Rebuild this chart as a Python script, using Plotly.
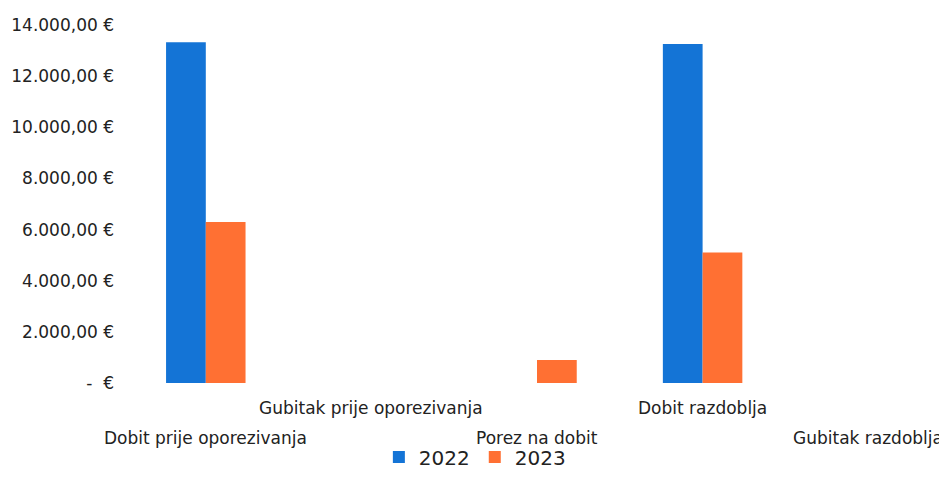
import plotly.graph_objects as go

categories = ["Dobit prije oporezivanja", "Gubitak prije oporezivanja", "Porez na dobit",
              "Dobit razdoblja", "Gubitak razdoblja"]
values_2022 = [13330, 0, 0, 13260, 0]
values_2023 = [6300, 0, 900, 5100, 0]
tick_vals = [0, 2000, 4000, 6000, 8000, 10000, 12000, 14000]
tick_text = ["-  €", "2.000,00 €", "4.000,00 €", "6.000,00 €", "8.000,00 €",
             "10.000,00 €", "12.000,00 €", "14.000,00 €"]

FONT = "DejaVu Sans"
fig = go.Figure()
fig.add_trace(go.Bar(name="2022", x=categories, y=values_2022,
                     marker=dict(color="#1474D6", line=dict(width=0))))
fig.add_trace(go.Bar(name="2023", x=categories, y=values_2023,
                     marker=dict(color="#FF7033", line=dict(width=0))))

# staggered category labels
for i, c in enumerate(categories):
    fig.add_annotation(x=c, xref="x", y=0, yref="paper", yanchor="top",
                       yshift=-13 if i % 2 == 1 else -43, text=c, showarrow=False,
                       font=dict(family=FONT, size=17, color="#222222"))

fig.update_layout(
    width=947, height=493,
    margin=dict(l=115, r=4, t=17, b=118),
    plot_bgcolor="white", paper_bgcolor="white",
    barmode="group", bargap=0.52, bargroupgap=0,
    xaxis=dict(type="category", range=[-0.5, 4.5], showticklabels=False,
               showline=False, showgrid=False, zeroline=False, ticks=""),
    yaxis=dict(range=[0, 14000], tickvals=tick_vals, ticktext=tick_text,
               showgrid=False, zeroline=False, showline=False, ticks="",
               ticklabelstandoff=8,
               tickfont=dict(family=FONT, size=17, color="#222222")),
    legend=dict(orientation="h", xref="container", yref="container",
                x=0.493, xanchor="center", y=0.089, yanchor="middle",
                font=dict(family=FONT, size=20, color="#222222"),
                itemwidth=30),
)
fig.write_html("out.html")
